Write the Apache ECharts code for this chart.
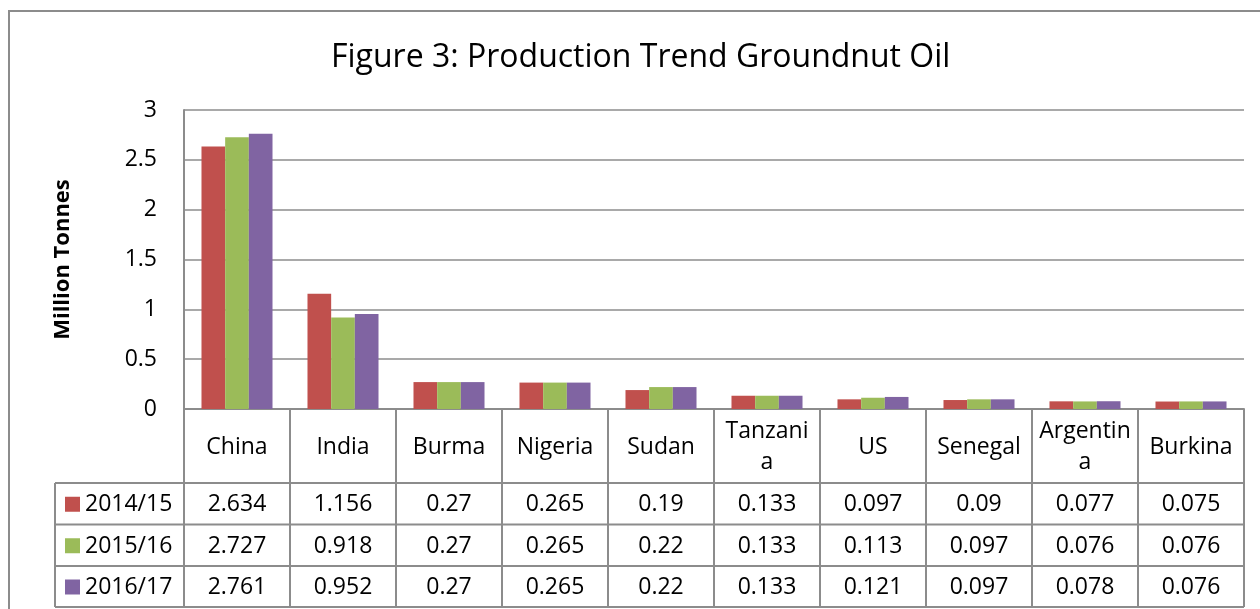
<!DOCTYPE html>
<html>
<head>
<meta charset="utf-8">
<script src="https://cdn.jsdelivr.net/npm/echarts@6/dist/echarts.min.js"></script>
<style>
  html, body { margin: 0; padding: 0; background: #fff; }
  #main { width: 1260px; height: 609px; }
</style>
</head>
<body>
<div id="main"></div>
<script>
// data
var countries = ['China', 'India', 'Burma', 'Nigeria', 'Sudan', 'Tanzania', 'US', 'Senegal', 'Argentina', 'Burkina']
var seasons = ['2014/15', '2015/16', '2016/17']
var v1415 = [2.634, 1.156, 0.27, 0.265, 0.19, 0.133, 0.097, 0.09, 0.077, 0.075]
var v1516 = [2.727, 0.918, 0.27, 0.265, 0.22, 0.133, 0.113, 0.097, 0.076, 0.076]
var v1617 = [2.761, 0.952, 0.27, 0.265, 0.22, 0.133, 0.121, 0.097, 0.078, 0.076]
var yTicks = [0, 0.5, 1, 1.5, 2, 2.5, 3]

var colors = ['#C0504D', '#9BBB59', '#8064A2']
var values = [v1415, v1516, v1617]
var FONT = '"Open Sans", "Noto Sans", sans-serif'

// layout (pixels)
var gl = 184, gr = 16, gt = 110, gb = 200
var plotW = 1260 - gl - gr
var zeroY = 609 - gb
var colW = plotW / countries.length
var rowY = [zeroY, 483, 524.5, 566, 607]
var legX = 55
var lineCol = '#8c8c8c'

var chart = echarts.init(document.getElementById('main'))

// Excel-style data table below the axis
var graphic = []
graphic.push({ type: 'rect', shape: { x: 9, y: 11, width: 1270, height: 620 },
  style: { fill: null, stroke: '#8c8c8c', lineWidth: 2 }, silent: true })
// horizontal table lines
for (var r = 1; r < rowY.length; r++) {
  graphic.push({ type: 'line', shape: { x1: legX, y1: rowY[r], x2: gl + plotW, y2: rowY[r] },
    style: { stroke: lineCol, lineWidth: 2 }, silent: true })
}
// vertical table lines
for (var c = 0; c <= countries.length; c++) {
  var x = gl + c * colW
  graphic.push({ type: 'line', shape: { x1: x, y1: zeroY, x2: x, y2: rowY[4] },
    style: { stroke: lineCol, lineWidth: 2 }, silent: true })
}
graphic.push({ type: 'line', shape: { x1: legX, y1: rowY[1], x2: legX, y2: rowY[4] },
  style: { stroke: lineCol, lineWidth: 2 }, silent: true })

// category header (long names wrap inside the cell, like Excel)
countries.forEach(function (name, i) {
  graphic.push({ type: 'text', x: gl + (i + 0.5) * colW, y: (rowY[0] + rowY[1]) / 2 + 1,
    style: { text: name, fill: '#000', font: '23px ' + FONT, align: 'center', verticalAlign: 'middle',
      lineHeight: 31, width: 93, overflow: 'breakAll' },
    silent: true })
})

// rows: legend key + values
seasons.forEach(function (s, r) {
  var cy = (rowY[r + 1] + rowY[r + 2]) / 2 + 1
  graphic.push({ type: 'rect', shape: { x: legX + 10, y: cy - 8, width: 15, height: 15 },
    style: { fill: colors[r] }, silent: true })
  graphic.push({ type: 'text', x: legX + 30, y: cy,
    style: { text: s, fill: '#000', font: '23px ' + FONT, align: 'left', verticalAlign: 'middle' }, silent: true })
  values[r].forEach(function (v, i) {
    graphic.push({ type: 'text', x: gl + (i + 0.5) * colW, y: cy,
      style: { text: String(v), fill: '#000', font: '23px ' + FONT, align: 'center', verticalAlign: 'middle' },
      silent: true })
  })
})

chart.setOption({
  animation: false,
  backgroundColor: '#fff',
  title: {
    text: 'Figure 3: Production Trend Groundnut Oil',
    left: 326, top: 37,
    textStyle: { fontFamily: FONT, fontSize: 32, fontWeight: 'normal', color: '#000' }
  },
  grid: { left: gl, right: gr, top: gt, bottom: gb },
  xAxis: {
    type: 'category',
    data: countries,
    axisLine: { lineStyle: { color: lineCol, width: 2 } },
    axisTick: { show: false },
    axisLabel: { show: false }
  },
  yAxis: {
    type: 'value',
    min: yTicks[0], max: yTicks[yTicks.length - 1], interval: 0.5,
    name: 'Million Tonnes',
    nameLocation: 'middle',
    nameGap: 110,
    nameTextStyle: { fontFamily: FONT, fontSize: 22, fontWeight: 'bold', color: '#000' },
    axisLine: { show: true, lineStyle: { color: lineCol, width: 2 } },
    axisTick: { show: false },
    axisLabel: { fontFamily: FONT, fontSize: 23, color: '#000', margin: 27 },
    splitLine: { lineStyle: { color: lineCol, width: 1.5 } }
  },
  series: seasons.map(function (s, r) {
    return {
      name: s, type: 'bar', data: values[r],
      itemStyle: { color: colors[r] },
      barGap: '0%', barCategoryGap: '33%'
    }
  }),
  graphic: graphic
})
</script>
</body>
</html>
